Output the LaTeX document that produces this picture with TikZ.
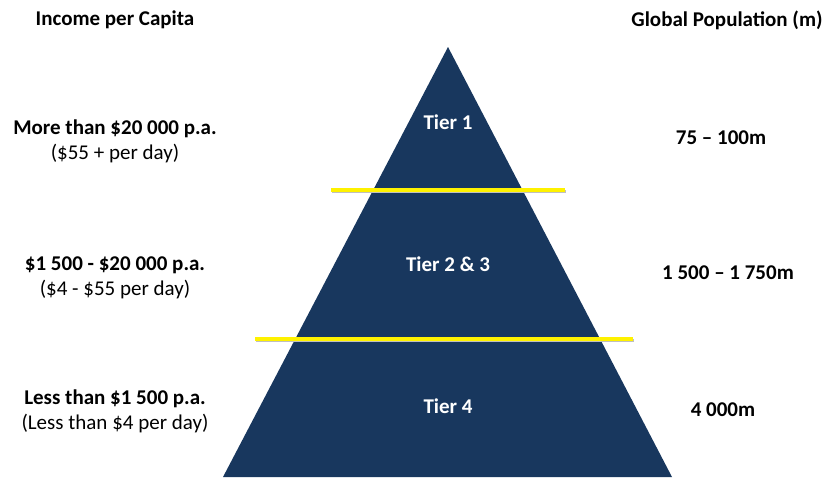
\documentclass[tikz,border=0pt]{standalone}
\usepackage{fontspec}
\setmainfont{Carlito}
\usepackage{xcolor}
\usetikzlibrary{calc}
\definecolor{pyrblue}{HTML}{18375E}
\definecolor{lineyellow}{HTML}{FFF200}

\begin{document}
\begin{tikzpicture}[x=1pt,y=-1pt]
	\tikzset{head/.style={font=\fontsize{21}{25}\selectfont\bfseries},
		income/.style={align=center,font=\fontsize{21}{25}\selectfont},
		tier/.style={text=white,font=\fontsize{21}{25}\selectfont\bfseries},
		pop/.style={font=\fontsize{21}{25}\selectfont\bfseries},
		divider/.style={line width=3.5pt,lineyellow},
		dividershadow/.style={line width=2.5pt,black!25}}
	\useasboundingbox (0,0) rectangle (826,477);
	
	\coordinate (top) at (448,47);
	\coordinate (bl) at (223,477);
	\coordinate (br) at (672,477);
	\fill[pyrblue] (top) -- (br) -- (bl) -- cycle;
	
	% dividers between the tiers
	\coordinate (d1l) at (331,190);
	\coordinate (d1r) at (565,190);
	\coordinate (d2l) at (255,339);
	\coordinate (d2r) at (633,339);
	\draw[dividershadow] ($(d1l)+(1,1.5)$) -- ($(d1r)+(1,1.5)$);
	\draw[dividershadow] ($(d2l)+(1,1.5)$) -- ($(d2r)+(1,1.5)$);
	\draw[divider] (d1l) -- (d1r);
	\draw[divider] (d2l) -- (d2r);
	
	\node[head] (inchead) at (115,20) {Income per Capita};
	\node[head] (pophead) at (727,20) {Global Population (m)};
	
	\node[tier] (t1) at (448,122) {Tier 1};
	\node[tier] (t23) at (448,264) {Tier 2 \& 3};
	\node[tier] (t4) at (448,406) {Tier 4};
	
	\node[income] (inc1) at (115,141) {\textbf{More than \$20 000 p.a.}\\(\$55 + per day)};
	\node[income] (inc23) at (115,278) {\textbf{\$1 500 - \$20 000 p.a.}\\(\$4 - \$55 per day)};
	\node[income] (inc4) at (115,411) {\textbf{Less than \$1 500 p.a.}\\(Less than \$4 per day)};
	
	\node[pop] (pop1) at (721,138) {75 – 100m};
	\node[pop] (pop23) at (728,273) {1 500 – 1 750m};
	\node[pop] (pop4) at (723,410) {4 000m};
	
\end{tikzpicture}
\end{document}
